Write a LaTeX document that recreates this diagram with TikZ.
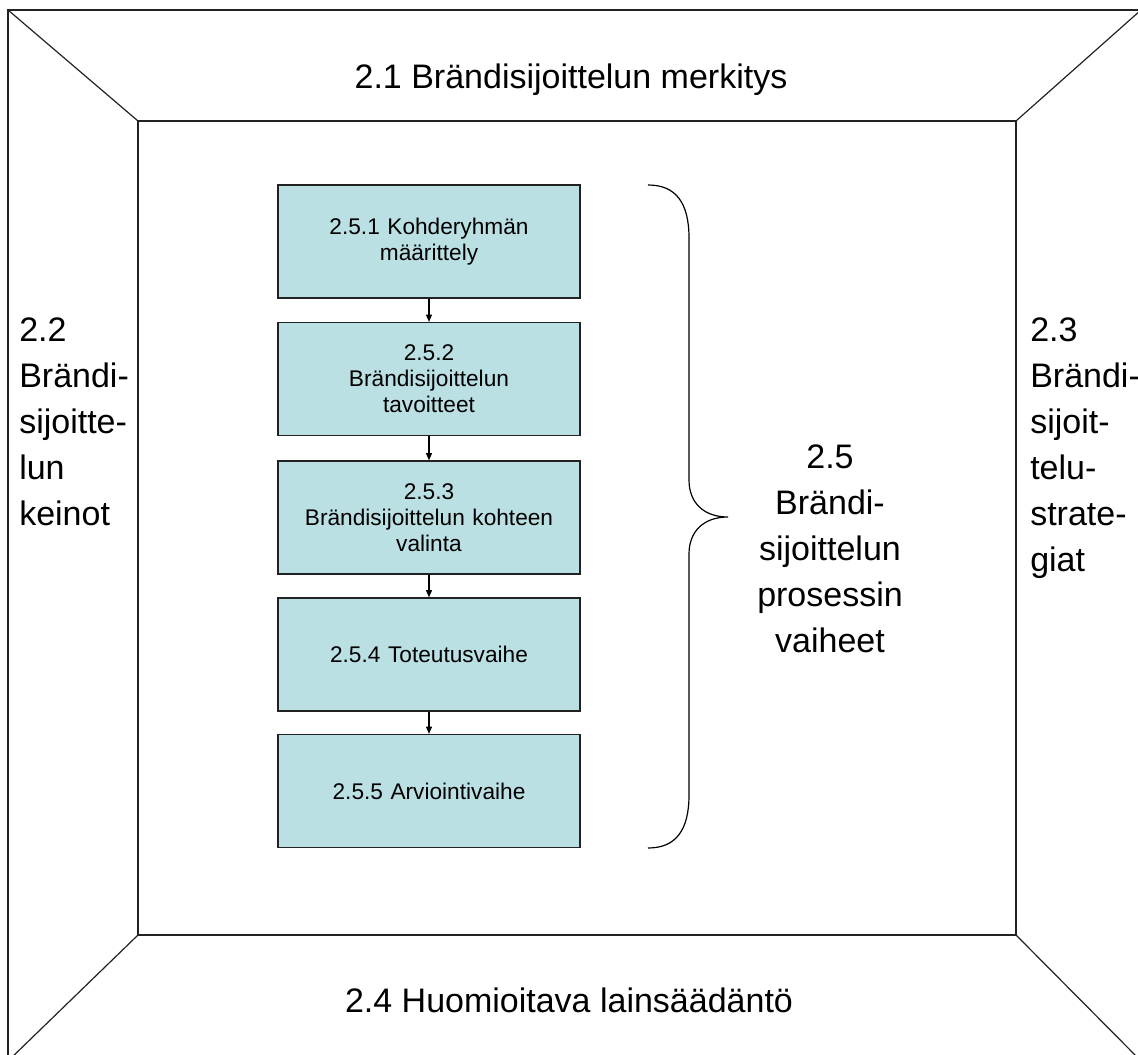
\documentclass[tikz,border=0pt]{standalone}
\usepackage{fontspec}
\setmainfont{Liberation Sans}
\usetikzlibrary{arrows.meta}
\definecolor{boxfill}{HTML}{BBE0E3}
\definecolor{lineclr}{HTML}{222222}
\tikzset{
  frameline/.style={draw=lineclr, line width=0.9pt},
  stepbox/.style={draw=lineclr, line width=0.9pt, fill=boxfill, minimum width=302*0.75pt, minimum height=113*0.75pt, align=center, inner sep=2pt, font=\fontsize{17}{19.5}\selectfont, text width=290*0.75pt},
  biglabel/.style={inner sep=0pt, font=\fontsize{25.5}{34.5}\selectfont},
  steparrow/.style={draw=black, line width=0.9pt, -{Triangle[length=5.5pt,width=4.5pt]}},
  bracestyle/.style={draw=black, line width=0.9pt}
}
\begin{document}
\begin{tikzpicture}[x=0.75pt, y=-0.75pt]
\useasboundingbox (0,0) rectangle (1138,1055);
\begin{scope}
\clip (0,0) rectangle (1138,1055);
% outer frame and inner frame
\coordinate (o1) at (8,10);
\coordinate (o2) at (1141,10);
\coordinate (o3) at (1141,1061);
\coordinate (o4) at (8,1061);
\coordinate (i1) at (138,121);
\coordinate (i2) at (1016,121);
\coordinate (i3) at (1016,935);
\coordinate (i4) at (138,935);
\draw[frameline] (o1) -- (o2) -- (o3) -- (o4) -- cycle;
\draw[frameline] (i1) -- (i2) -- (i3) -- (i4) -- cycle;
\draw[frameline] (o1) -- (i1);
\draw[frameline] (o2) -- (i2);
\draw[frameline] (o3) -- (i3);
\draw[frameline] (o4) -- (i4);
\end{scope}
% side labels
\node[biglabel, anchor=base] (t21) at (571,89) {2.1 Brändisijoittelun merkitys};
\node[biglabel, anchor=base] (t24) at (569,1012) {2.4 Huomioitava lainsäädäntö};
\node[biglabel, anchor=west, align=left] (t22) at (19,422) {2.2\\Brändi-\\sijoitte-\\lun\\keinot};
\node[biglabel, anchor=west, align=left] (t23) at (1030,448) {2.3\\Brändi-\\sijoit-\\telu-\\strate-\\giat};
\node[biglabel, align=center] (t25) at (830,549) {2.5\\Brändi-\\sijoittelun\\prosessin\\vaiheet};
% step boxes
\node[stepbox] (b1) at (429,241.5) {2.5.1 Kohderyhmän\\määrittely};
\node[stepbox] (b2) at (429,379) {2.5.2\\Brändisijoittelun\\tavoitteet};
\node[stepbox] (b3) at (429,517.5) {2.5.3\\Brändisijoittelun kohteen\\valinta};
\node[stepbox] (b4) at (429,654.5) {2.5.4 Toteutusvaihe};
\node[stepbox] (b5) at (429,791) {2.5.5 Arviointivaihe};
\draw[steparrow] (b1) -- (b2);
\draw[steparrow] (b2) -- (b3);
\draw[steparrow] (b3) -- (b4);
\draw[steparrow] (b4) -- (b5);
% brace
\coordinate (brtop) at (648,185);
\coordinate (brtip) at (728,517);
\coordinate (brbot) at (648,848);
\draw[bracestyle] (brtop) .. controls (676,185) and (689,203) .. (689,238) -- (689,480) .. controls (689,503) and (704,517) .. (brtip) .. controls (704,517) and (689,531) .. (689,554) -- (689,795) .. controls (689,830) and (676,848) .. (brbot);
\end{tikzpicture}
\end{document}
